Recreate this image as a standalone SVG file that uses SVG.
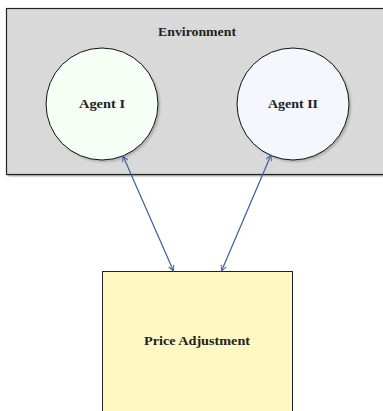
<svg xmlns="http://www.w3.org/2000/svg" width="383" height="411" viewBox="0 0 383 411">
<style>
.lbl{font-family:"Liberation Serif","Times New Roman",serif;font-weight:bold;font-size:12px;fill:#222;text-anchor:middle}
.shadow{fill:#8a8a8a;opacity:0.55;filter:url(#blur)}
.conn{stroke:#3a5f99;stroke-width:1.2;fill:none;marker-start:url(#ah);marker-end:url(#ah)}
</style>
<defs>
<filter id="blur" x="-10%" y="-10%" width="120%" height="120%"><feGaussianBlur stdDeviation="0.8"/></filter>
<marker id="ah" viewBox="0 0 10 10" refX="9" refY="5" markerWidth="7" markerHeight="7" orient="auto-start-reverse" markerUnits="userSpaceOnUse">
<path d="M1,1 L9,5 L1,9" fill="none" stroke="#3a5f99" stroke-width="1.4"/>
</marker>
</defs>
<rect width="383" height="411" fill="#ffffff"/>
<g id="environment">
<rect x="8" y="10" width="380" height="166" fill="#8c8c8c" filter="url(#blur)"/>
<rect x="6.5" y="8.5" width="380" height="166" fill="#d9d9d9" stroke="#222" stroke-width="1.2"/>
<text class="lbl" x="197" y="36" textLength="78" lengthAdjust="spacingAndGlyphs">Environment</text>
</g>
<g id="agent1">
<circle class="shadow" cx="104" cy="106" r="56"/>
<circle cx="102" cy="104" r="56" fill="#f6fff6" stroke="#111" stroke-width="1"/>
<text class="lbl" x="102" y="107.5" textLength="46" lengthAdjust="spacingAndGlyphs">Agent I</text>
</g>
<g id="agent2">
<circle class="shadow" cx="295" cy="106" r="56"/>
<circle cx="293" cy="104" r="56" fill="#f6f6ff" stroke="#111" stroke-width="1"/>
<text class="lbl" x="293" y="107.5" textLength="50" lengthAdjust="spacingAndGlyphs">Agent II</text>
</g>
<g id="price">
<rect x="102.5" y="271.5" width="190" height="150" fill="#fff8c2" stroke="#222" stroke-width="1"/>
<text class="lbl" x="197" y="345" textLength="106" lengthAdjust="spacingAndGlyphs">Price Adjustment</text>
</g>
<g id="connectors">
<line class="conn" x1="123" y1="156" x2="173.5" y2="271"/>
<line class="conn" x1="271" y1="155" x2="221.5" y2="271"/>
</g>
</svg>
